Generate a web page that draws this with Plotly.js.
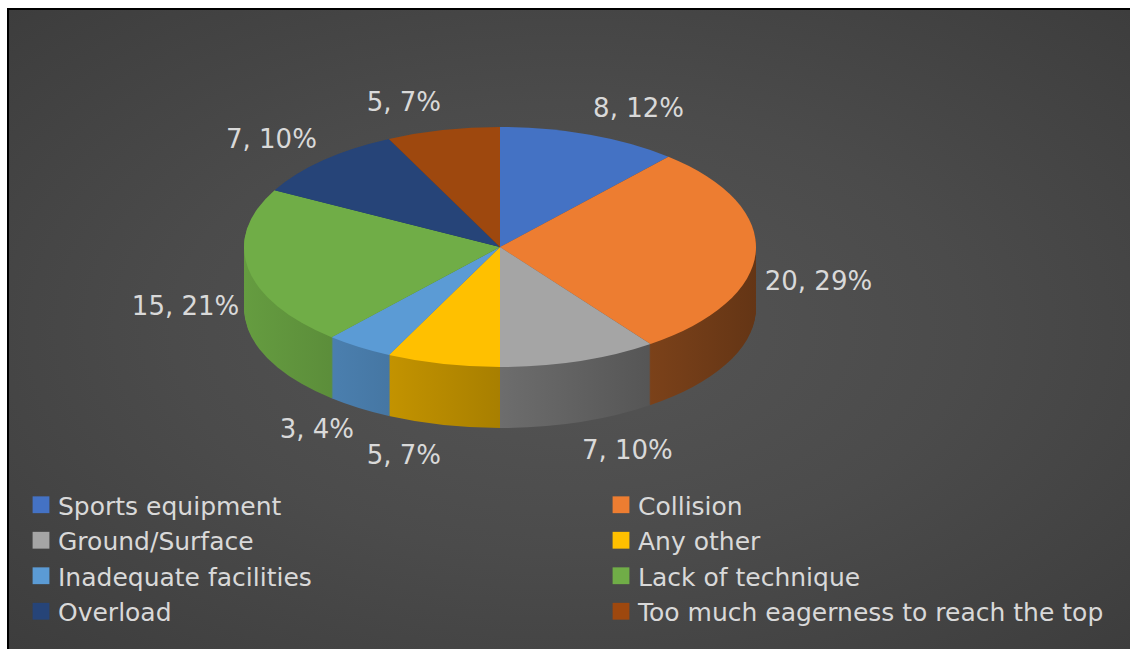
<!DOCTYPE html>
<html>
<head>
<meta charset="utf-8">
<script src="https://cdn.plot.ly/plotly-3.0.1.min.js"></script>
<style>
  html, body { margin: 0; padding: 0; background: #ffffff; overflow: hidden; width: 1130px; height: 649px; }
  #frame {
    position: absolute; left: 7px; top: 8px; right: 0; bottom: 0;
    border-left: 2px solid #000; border-top: 2px solid #000;
    background: radial-gradient(ellipse at 50% 50%, #555555 0%, #4b4b4b 50%, #3d3d3d 100%);
  }
  #chart { position: absolute; left: 0; top: 0; width: 1200px; height: 649px; }
</style>
</head>
<body>
<div id="frame"></div>
<div id="chart"></div>
<script>
// ---- data ----
const categories = ['Sports equipment', 'Collision', 'Ground/Surface', 'Any other',
                    'Inadequate facilities', 'Lack of technique', 'Overload',
                    'Too much eagerness to reach the top'];
const counts = [8, 20, 7, 5, 3, 15, 7, 5];
const percentLabels = [12, 29, 10, 7, 4, 21, 10, 7];

// ---- styles ----
const sliceColors = ['#4472C4', '#ED7D31', '#A5A5A5', '#FFC000', '#5B9BD5', '#70AD47', '#264478', '#9E480E'];
const TEXT_COLOR = '#d9d9d9';
const FONT = 'DejaVu Sans, sans-serif';

// 3D look geometry (pixels on the page)
const TCX = 500, TCY = 247, RX = 256, RY = 120, DEPTH = 61;
const LX = 265, LY = 137;

const W = 1200, H = 649;

const trace = {
  type: 'pie',
  labels: categories,
  values: counts,
  text: percentLabels,
  texttemplate: '%{value}, %{text}%',
  textposition: 'outside',
  textfont: { family: FONT, size: 26, color: TEXT_COLOR },
  sort: false,
  direction: 'clockwise',
  rotation: 0,
  marker: { colors: sliceColors, line: { width: 0 } },
  domain: { x: [0.25, 0.6], y: [0.35, 0.9] },
  hoverinfo: 'none'
};

const layout = {
  width: W, height: H,
  margin: { l: 0, r: 0, t: 0, b: 0 },
  paper_bgcolor: 'rgba(0,0,0,0)',
  plot_bgcolor: 'rgba(0,0,0,0)',
  showlegend: true,
  legend: {
    orientation: 'h',
    x: 18 / W, xanchor: 'left',
    y: 1 - 482 / H, yanchor: 'top',
    entrywidthmode: 'pixels',
    entrywidth: 535,
    traceorder: 'normal',
    bgcolor: 'rgba(0,0,0,0)',
    font: { family: FONT, size: 25, color: TEXT_COLOR }
  },
  font: { family: FONT, color: TEXT_COLOR }
};

function scaleRgb(rgbStr, f) {
  const m = rgbStr.match(/\d+(\.\d+)?/g).map(Number);
  return 'rgb(' + Math.round(m[0] * f) + ',' + Math.round(m[1] * f) + ',' + Math.round(m[2] * f) + ')';
}

function make3D(gd) {
  const cd0 = gd.calcdata[0][0];
  const cx = cd0.cx, cy = cd0.cy, r = cd0.r;
  const sx = RX / r, sy = RY / r;
  const tf = (dy) => 'translate(' + TCX + ',' + (TCY + dy) + ') scale(' + sx + ',' + sy + ') translate(' + (-cx) + ',' + (-cy) + ')';
  const svg = gd.querySelector('.main-svg');
  const traceG = gd.querySelector('.pielayer .trace');
  const slices = Array.from(traceG.querySelectorAll('g.slice'));
  const ns = 'http://www.w3.org/2000/svg';

  // side gradients (lit from the left)
  let defs = svg.querySelector('defs');
  if (!defs) { defs = document.createElementNS(ns, 'defs'); svg.insertBefore(defs, svg.firstChild); }
  const surfaces = slices.map(s => s.querySelector('path.surface'));
  const sideFills = surfaces.map((p, i) => {
    const base = getComputedStyle(p).fill;
    const lg = document.createElementNS(ns, 'linearGradient');
    lg.setAttribute('id', 'side-grad-' + i);
    lg.setAttribute('gradientUnits', 'userSpaceOnUse');
    lg.setAttribute('x1', cx - r); lg.setAttribute('x2', cx + r);
    lg.setAttribute('y1', cy); lg.setAttribute('y2', cy);
    [[0, 0.9], [0.5, 0.66], [1, 0.42]].forEach(([o, f]) => {
      const st = document.createElementNS(ns, 'stop');
      st.setAttribute('offset', o);
      st.setAttribute('stop-color', scaleRgb(base, f));
      lg.appendChild(st);
    });
    defs.appendChild(lg);
    return 'url(#side-grad-' + i + ')';
  });

  const sideG = document.createElementNS(ns, 'g');
  traceG.insertBefore(sideG, traceG.firstChild);
  for (let t = DEPTH; t >= 1; t--) {
    surfaces.forEach((p, i) => {
      const c = p.cloneNode(false);
      c.setAttribute('transform', tf(t));
      c.style.fill = sideFills[i];
      c.style.stroke = 'none';
      c.style.strokeWidth = '0';
      sideG.appendChild(c);
    });
  }
  surfaces.forEach(p => { p.setAttribute('transform', tf(0)); p.style.stroke = 'none'; });

  traceG.querySelectorAll('path.textline').forEach(e => e.remove());

  // reposition labels around the tilted pie (angles from the data)
  const total = counts.reduce((a, b) => a + b, 0);
  let cum = 0;
  const svgRect = svg.getBoundingClientRect();
  slices.forEach((s, i) => {
    const v = counts[i];
    const a = (cum + v / 2) / total * 2 * Math.PI;
    cum += v;
    const g = s.querySelector('g.slicetext');
    if (!g) return;
    const txt = g.querySelector('text');
    const b = txt.getBoundingClientRect();
    const curX = b.left + b.width / 2 - svgRect.left;
    const curY = b.top + b.height / 2 - svgRect.top;
    const sa = Math.sin(a), ca = Math.cos(a);
    const px = TCX + LX * sa;
    const py = TCY - LY * ca + DEPTH * Math.max(0, 0.42 - 0.62 * ca);
    const tx = px + Math.sign(sa) * b.width / 2;
    const ty = py - ca * b.height * 0.4;
    g.setAttribute('transform', 'translate(' + (tx - curX) + ',' + (ty - curY) + ')');
  });

  gd.querySelectorAll('.legend path.legendpie').forEach(p => {
    p.setAttribute('transform', 'translate(23,0) scale(1.4)');
    p.style.strokeWidth = '0';
  });
}

const gd = document.getElementById('chart');
Plotly.newPlot(gd, [trace], layout, { staticPlot: true, displayModeBar: false })
  .then(() => make3D(gd));
</script>
</body>
</html>
